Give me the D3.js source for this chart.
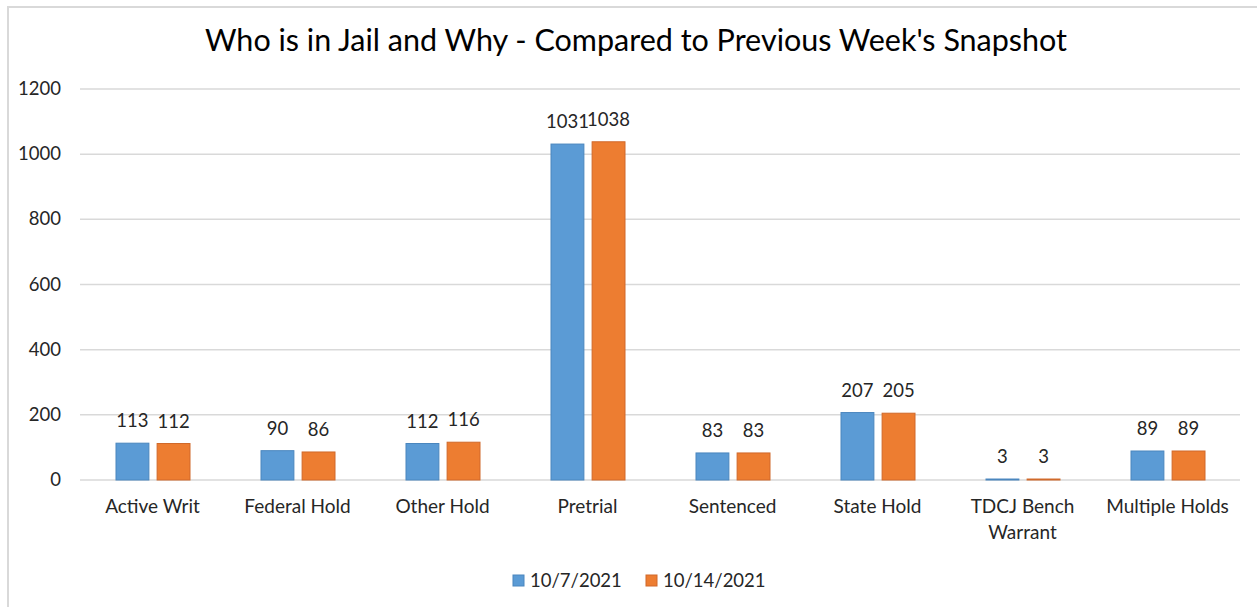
<!DOCTYPE html>
<html>
<head>
<meta charset="utf-8">
<script src="https://cdn.jsdelivr.net/npm/d3@7"></script>
<style>
  body { margin: 0; background: #fff; }
  text { font-family: Lato, "Open Sans", sans-serif; fill: #262626; }
</style>
</head>
<body>
<svg id="chart" width="1257" height="607"></svg>
<script>
// chart data
var categories = ["Active Writ", "Federal Hold", "Other Hold", "Pretrial", "Sentenced", "State Hold", "TDCJ Bench Warrant", "Multiple Holds"];
var seriesNames = ["10/7/2021", "10/14/2021"];
var week1 = [113, 90, 112, 1031, 83, 207, 3, 89];
var week2 = [112, 86, 116, 1038, 83, 205, 3, 89];
var yTicks = [0, 200, 400, 600, 800, 1000, 1200];
var colors = ["#5B9BD5", "#ED7D31"];
var strokes = ["#4A86BE", "#D0692A"];

var svg = d3.select("#chart");

// outer border
svg.append("rect")
  .attr("x", 8).attr("y", 7)
  .attr("width", 1262).attr("height", 620)
  .attr("fill", "none")
  .attr("stroke", "#d9d9d9")
  .attr("stroke-width", 2);

var plotL = 80, plotR = 1240, plotT = 89, plotB = 480;

var x = d3.scaleBand().domain(categories).range([plotL, plotR]);
var xInner = d3.scaleBand().domain([0, 1]).range([36, 110]).paddingInner(0.2);
var y = d3.scaleLinear().domain([0, 1200]).range([plotB, plotT]);

// title
svg.append("text")
  .attr("x", 636).attr("y", 51)
  .attr("text-anchor", "middle")
  .style("font-size", "30.5px")
  .style("fill", "#000")
  .text("Who is in Jail and Why - Compared to Previous Week's Snapshot");

// gridlines
svg.selectAll("line.grid")
  .data(yTicks)
  .enter().append("line")
  .attr("class", "grid")
  .attr("x1", plotL).attr("x2", plotR)
  .attr("y1", function(d) { return y(d); })
  .attr("y2", function(d) { return y(d); })
  .attr("stroke", "#d9d9d9")
  .attr("stroke-width", 1.5);

// y axis labels
svg.selectAll("text.ytick")
  .data(yTicks)
  .enter().append("text")
  .attr("class", "ytick")
  .attr("x", 61)
  .attr("y", function(d) { return y(d) + 6; })
  .attr("text-anchor", "end")
  .style("font-size", "18.5px")
  .text(function(d) { return d; });

var series = [week1, week2];

series.forEach(function(vals, s) {
  var g = svg.append("g");
  g.selectAll("rect")
    .data(vals)
    .enter().append("rect")
    .attr("x", function(d, i) { return x(categories[i]) + xInner(s); })
    .attr("y", function(d) { return y(d); })
    .attr("width", xInner.bandwidth())
    .attr("height", function(d) { return y(0) - y(d); })
    .attr("fill", colors[s])
    .attr("stroke", strokes[s])
    .attr("stroke-width", 1);

  g.selectAll("text")
    .data(vals)
    .enter().append("text")
    .attr("x", function(d, i) { return x(categories[i]) + xInner(s) + xInner.bandwidth() / 2; })
    .attr("y", function(d) { return y(d) - 16; })
    .attr("text-anchor", "middle")
    .style("font-size", "18.5px")
    .text(function(d) { return d; });
});

// category labels (wrap long ones)
categories.forEach(function(c) {
  var lines = c === "TDCJ Bench Warrant" ? ["TDCJ Bench", "Warrant"] : [c];
  var t = svg.append("text")
    .attr("x", x(c) + x.bandwidth() / 2)
    .attr("y", 513)
    .attr("text-anchor", "middle")
    .style("font-size", "19px");
  lines.forEach(function(l, i) {
    t.append("tspan")
      .attr("x", x(c) + x.bandwidth() / 2)
      .attr("dy", i === 0 ? 0 : 26)
      .text(l);
  });
});

// legend
var legendX = [513, 646];
seriesNames.forEach(function(n, s) {
  svg.append("rect")
    .attr("x", legendX[s]).attr("y", 575)
    .attr("width", 11).attr("height", 11)
    .attr("fill", colors[s])
    .attr("stroke", strokes[s]);
  svg.append("text")
    .attr("x", legendX[s] + 17).attr("y", 587)
    .style("font-size", "18.5px")
    .text(n);
});
</script>
</body>
</html>
